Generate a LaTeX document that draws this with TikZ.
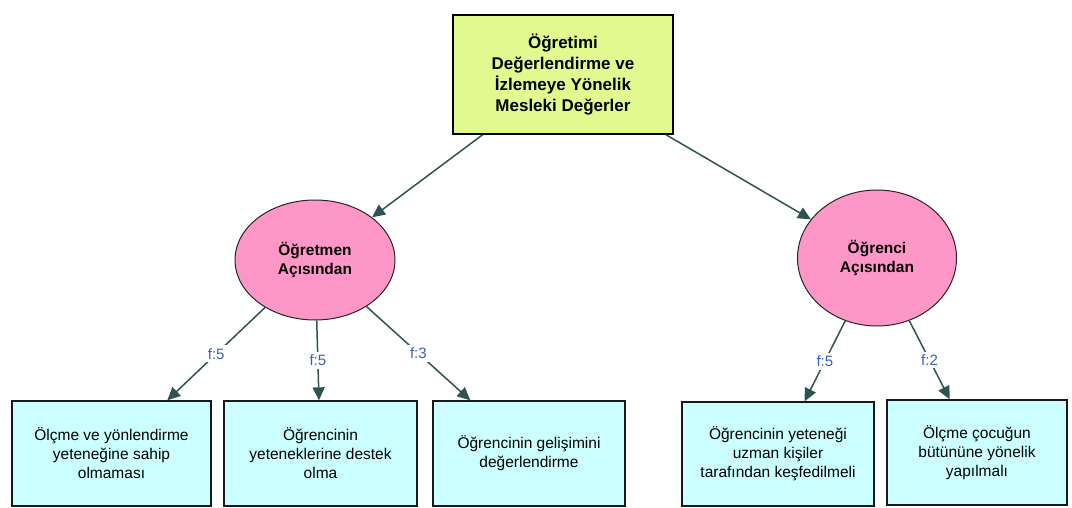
\documentclass[tikz,border=0pt]{standalone}
\usepackage{fontspec}
\setmainfont{Liberation Sans}
\usetikzlibrary{arrows.meta,shapes.geometric}

\definecolor{topfill}{HTML}{E0FA90}
\definecolor{viewfill}{HTML}{FF96C8}
\definecolor{leaffill}{HTML}{CCFFFF}
\definecolor{linkcol}{HTML}{2F5353}
\definecolor{labelcol}{HTML}{3A5FC4}

\tikzset{
  rootbox/.style={draw=black, line width=1.4pt, fill=topfill, align=center,
    font=\fontsize{17}{20.7}\selectfont\bfseries, inner sep=0pt},
  viewpoint/.style={ellipse, draw=black!85, line width=1pt, fill=viewfill, align=center,
    font=\fontsize{15.5}{18.5}\selectfont\bfseries, inner sep=0pt},
  leafbox/.style={draw=black!90, line width=1.3pt, fill=leaffill, align=center,
    font=\fontsize{15.5}{19}\selectfont, inner sep=0pt},
  link/.style={draw=linkcol, line width=1.5pt, -{Triangle[length=13pt,width=12pt]}},
  freq/.style={fill=white, text=labelcol, inner sep=3pt, font=\fontsize{15}{17}\selectfont}
}

\begin{document}
\begin{tikzpicture}[x=1pt,y=-1pt]
  \useasboundingbox (0,0) rectangle (1072,508);

  % root concept
  \node[rootbox, minimum width=220pt, minimum height=119pt] (root) at (563,74.5)
    {Öğretimi\\Değerlendirme ve\\İzlemeye Yönelik\\Mesleki Değerler};

  % two viewpoints
  \node[viewpoint, minimum width=160pt, minimum height=120pt] (teacher) at (315,260)
    {Öğretmen\\Açısından};
  \node[viewpoint, minimum width=159pt, minimum height=136pt] (student) at (877,258)
    {Öğrenci\\Açısından};

  % leaf values
  \node[leafbox, minimum width=199pt, minimum height=105pt] (l1) at (111.5,453.5)
    {Ölçme ve yönlendirme\\yeteneğine sahip\\olmaması};
  \node[leafbox, minimum width=193pt, minimum height=105pt] (l2) at (320.5,453.5)
    {Öğrencinin\\yeteneklerine destek\\olma};
  \node[leafbox, minimum width=192pt, minimum height=105pt] (l3) at (529,453.5)
    {Öğrencinin gelişimini\\değerlendirme};
  \node[leafbox, minimum width=192pt, minimum height=104pt] (l4) at (778,454)
    {Öğrencinin yeteneği\\uzman kişiler\\tarafından keşfedilmeli};
  \node[leafbox, minimum width=180pt, minimum height=105pt] (l5) at (977,452.5)
    {Ölçme çocuğun\\bütününe yönelik\\yapılmalı};

  % connectors
  \draw[link] (root) -- (teacher);
  \draw[link] (root) -- (student);
  \draw[link] (teacher) -- node[freq] {f:5} (l1);
  \draw[link] (teacher) -- node[freq] {f:5} (l2);
  \draw[link] (teacher) -- node[freq] {f:3} (l3);
  \draw[link] (student) -- node[freq] {f:5} (l4);
  \draw[link] (student) -- node[freq] {f:2} (l5);
\end{tikzpicture}
\end{document}
